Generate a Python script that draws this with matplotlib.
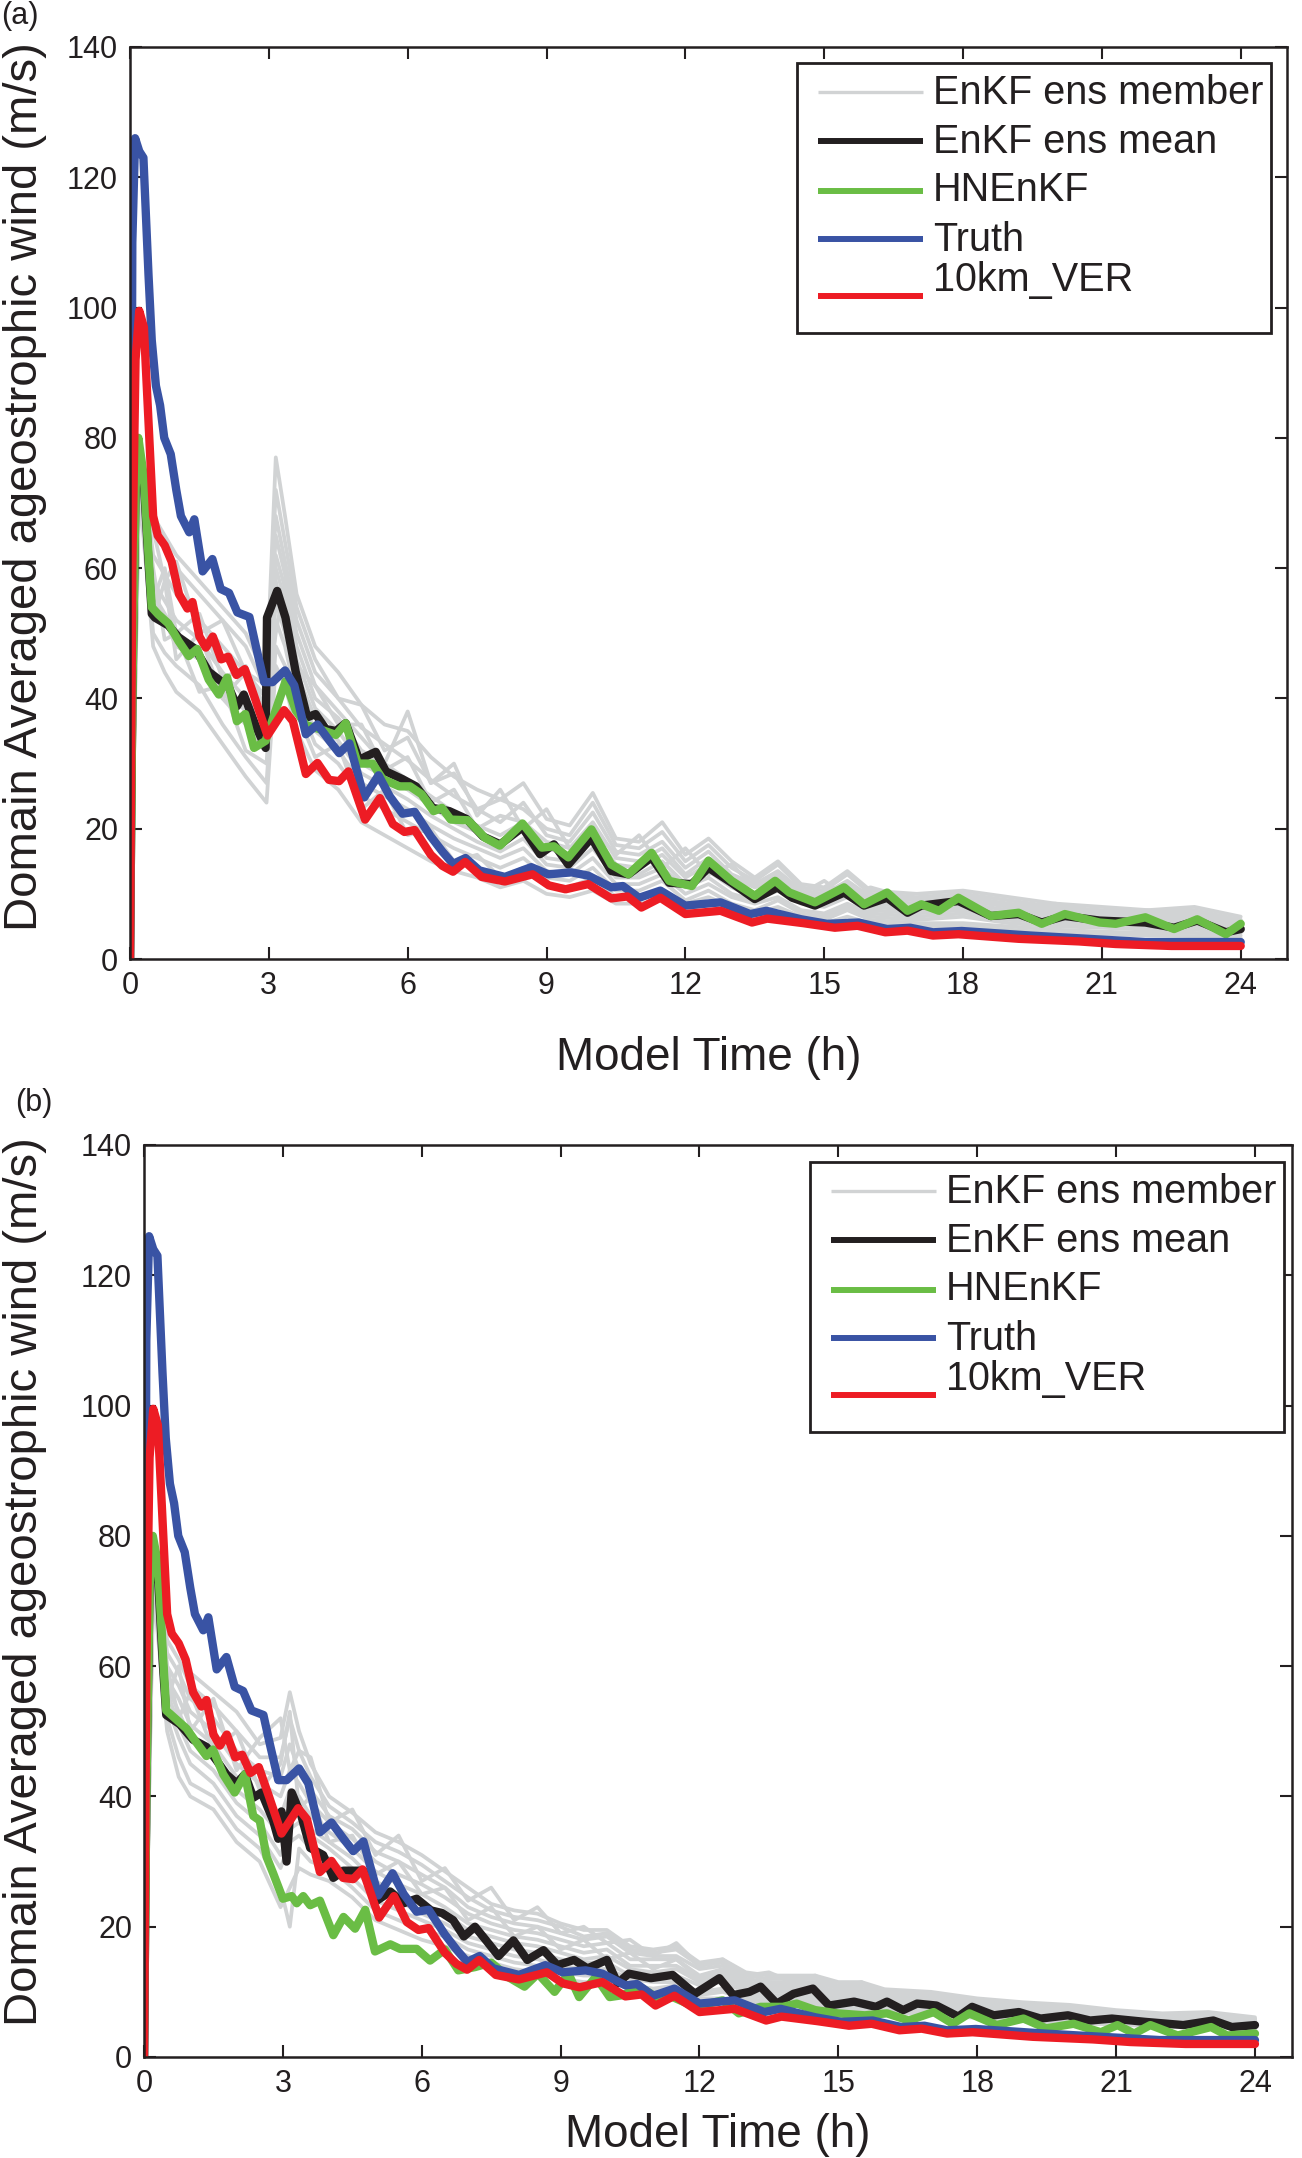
import matplotlib
matplotlib.use("Agg")
import matplotlib.pyplot as plt
from matplotlib.lines import Line2D
from matplotlib.patches import Rectangle

plt.rcParams['font.family'] = ['Liberation Sans', 'DejaVu Sans']

# ---------------- data ----------------
XTICKS = [0, 3, 6, 9, 12, 15, 18, 21, 24]
YTICKS = [0, 20, 40, 60, 80, 100, 120, 140]
LEGEND_LABELS = ["EnKF ens member", "EnKF ens mean", "HNEnKF", "Truth", "10km_VER"]

# (time h, value m/s) -- Truth and 10km_VER are identical in both panels
TRUTH = [(0, 0), (0.05, 110), (0.11, 126), (0.2, 124), (0.29, 123), (0.4, 105), (0.47, 95),
         (0.56, 88), (0.65, 85), (0.74, 80), (0.88, 77.5), (1.0, 72), (1.1, 68), (1.28, 65.5),
         (1.39, 67.5), (1.57, 59.5), (1.78, 61.4), (1.96, 56.8), (2.14, 56.2), (2.32, 53.2),
         (2.58, 52.5), (2.72, 48), (2.9, 42.5), (3.08, 42.5), (3.35, 44.3), (3.55, 42),
         (3.8, 34.5), (4.05, 36), (4.31, 33.5), (4.52, 31.6), (4.74, 33.1), (5.06, 24.8),
         (5.37, 28.2), (5.61, 25), (5.89, 22.3), (6.15, 22.6), (6.5, 18.8), (6.75, 16.5),
         (6.98, 14.6), (7.25, 15.5), (7.55, 13.6), (8.1, 12.6), (8.67, 14.1), (9.04, 13),
         (9.54, 13.3), (9.9, 12.8), (10.4, 11), (10.65, 11.2), (11.0, 9.4), (11.46, 10.5),
         (12.0, 8.2), (12.76, 8.7), (13.4, 6.9), (13.75, 7.4), (14.5, 6.1), (15.06, 5.4),
         (15.74, 5.6), (16.36, 4.6), (16.86, 4.8), (17.35, 4.1), (17.97, 4.3), (19.46, 3.6),
         (20.7, 3.1), (21.94, 2.6), (24.0, 2.6)]

VER10 = [(0, 0), (0.05, 60), (0.12, 92), (0.2, 99.5), (0.3, 97), (0.41, 81), (0.5, 68),
         (0.6, 65), (0.75, 63.5), (0.9, 61), (1.06, 56), (1.24, 53.8), (1.35, 54.8), (1.5, 49.5),
         (1.64, 47.8), (1.79, 49.5), (1.97, 46), (2.12, 46.4), (2.3, 43.6), (2.48, 44.5),
         (2.7, 40), (2.97, 34.3), (3.33, 38.2), (3.52, 36.5), (3.8, 28.4), (4.05, 30.1),
         (4.3, 27.5), (4.52, 27.3), (4.72, 28.8), (5.08, 21.4), (5.4, 24.7), (5.68, 20.7),
         (5.93, 19.5), (6.15, 19.8), (6.5, 16), (6.75, 14.3), (6.98, 13.4), (7.24, 14.9),
         (7.6, 12.6), (8.1, 11.9), (8.7, 13.0), (9.05, 11.3), (9.41, 10.7), (9.9, 11.5),
         (10.4, 9.3), (10.75, 9.6), (11.05, 7.9), (11.46, 9.4), (12.0, 6.9), (12.76, 7.4),
         (13.44, 5.6), (13.77, 6.2), (14.55, 5.5), (15.23, 4.8), (15.72, 5.1), (16.32, 4.1),
         (16.8, 4.35), (17.35, 3.6), (17.9, 3.8), (19.2, 3.1), (20.5, 2.7), (21.3, 2.3),
         (22.5, 2.0), (24.0, 2.0)]

HN_A = [(0, 0), (0.05, 40), (0.12, 72), (0.18, 80), (0.3, 74), (0.4, 62), (0.47, 54),
        (0.61, 52.9), (0.83, 51.5), (1.05, 48.8), (1.27, 46.5), (1.45, 47.6), (1.7, 42.9),
        (1.92, 40.6), (2.1, 43.2), (2.31, 36.5), (2.49, 37.6), (2.68, 32.4), (2.93, 33.5),
        (3.04, 35.9), (3.36, 42.6), (3.58, 38.2), (3.8, 35.9), (4.09, 35.3), (4.45, 34.4),
        (4.66, 36.2), (4.92, 30), (5.24, 30), (5.46, 27.6), (5.82, 26.5), (6.05, 26.5),
        (6.3, 25.3), (6.56, 22.7), (6.74, 23.2), (6.93, 21.4), (7.3, 21.3), (7.67, 18.6),
        (7.99, 17.4), (8.48, 20.8), (8.9, 17.1), (9.16, 17.3), (9.47, 15.6), (9.97, 19.9),
        (10.4, 14.5), (10.77, 13), (11.27, 16.3), (11.65, 12), (12.14, 11.2), (12.5, 15.1),
        (13.0, 12), (13.5, 9.7), (13.94, 12), (14.25, 10.2), (14.8, 8.7), (15.43, 11),
        (15.86, 8.4), (16.36, 10.2), (16.8, 7.4), (17.1, 8.4), (17.48, 7.4), (17.9, 9.4),
        (18.6, 6.6), (19.2, 7.1), (19.7, 5.4), (20.2, 6.9), (20.95, 5.6), (21.3, 5.4),
        (21.94, 6.4), (22.56, 4.6), (23.06, 6.1), (23.68, 3.8), (24.0, 5.4)]

MEAN_A = [(0, 0), (0.05, 40), (0.12, 72), (0.18, 79), (0.3, 73), (0.4, 61), (0.47, 53),
          (0.54, 52.4), (0.83, 51.2), (1.05, 49.4), (1.41, 47.6), (1.7, 44.1), (1.92, 42.9),
          (2.13, 41.8), (2.31, 38.8), (2.46, 40.6), (2.71, 35.9), (2.93, 32.4), (2.96, 52.4),
          (3.18, 56.5), (3.36, 52.4), (3.58, 44.1), (3.83, 37.1), (4.01, 37.6), (4.23, 35.3),
          (4.45, 35.0), (4.66, 36.2), (4.95, 30.6), (5.31, 31.8), (5.53, 28.8), (5.89, 27.6),
          (6.18, 26.5), (6.54, 23.2), (6.9, 22.7), (7.27, 21.5), (7.63, 18.8), (8.0, 17.6),
          (8.48, 20.2), (8.86, 16.1), (9.16, 17.6), (9.47, 14.5), (9.97, 18.6), (10.4, 13.5),
          (10.77, 13), (11.27, 15.6), (11.65, 11.7), (12.14, 11.5), (12.5, 14), (13.0, 11.7),
          (13.5, 9.2), (13.99, 11), (14.31, 9.4), (14.8, 8.2), (15.43, 10.2), (15.86, 8.2),
          (16.36, 9.4), (16.8, 7.1), (17.1, 8.2), (17.9, 8.9), (18.6, 6.6), (19.2, 6.9),
          (19.7, 5.6), (20.2, 6.6), (20.95, 5.9), (21.94, 5.6), (22.56, 4.8), (23.06, 5.9),
          (23.68, 4.1), (24.0, 4.6)]

HN_B = [(0, 0), (0.05, 40), (0.12, 72), (0.19, 80), (0.3, 75.8), (0.41, 61.7), (0.48, 53.2),
        (0.7, 51.8), (0.92, 50.4), (1.13, 48.3), (1.35, 46.2), (1.49, 47.2), (1.71, 43.4),
        (1.96, 40.6), (2.18, 43.4), (2.36, 37), (2.5, 36.3), (2.65, 30.7), (2.79, 28.2),
        (3.0, 24.3), (3.19, 24.7), (3.3, 23.6), (3.44, 24.7), (3.59, 23.3), (3.8, 24),
        (4.09, 18.7), (4.31, 21.5), (4.56, 19.7), (4.78, 22.6), (4.99, 16.2), (5.32, 17.3),
        (5.53, 16.6), (5.89, 16.6), (6.18, 14.8), (6.5, 16.5), (6.79, 13.3), (7.15, 13.8),
        (7.5, 14.5), (7.86, 12.3), (8.22, 10.8), (8.51, 12.8), (8.87, 10.0), (9.17, 12.8),
        (9.4, 9.2), (9.76, 12.3), (10.06, 9.2), (10.35, 9.5), (10.7, 10.8), (11.07, 9.2),
        (11.42, 9.2), (11.9, 7.7), (12.5, 8.7), (12.85, 6.7), (13.32, 7.7), (13.8, 7.7),
        (14.1, 8.2), (14.5, 7.2), (14.98, 6.7), (15.57, 6.4), (16.05, 6.7), (16.52, 5.6),
        (17.06, 6.9), (17.47, 5.1), (17.83, 6.7), (18.42, 4.9), (19.0, 5.9), (19.49, 4.4),
        (20.08, 5.1), (20.67, 3.8), (21.03, 4.9), (21.39, 3.6), (21.74, 4.9), (22.33, 3.3),
        (23.05, 4.6), (23.4, 3.3), (24.0, 3.6)]

MEAN_B = [(0, 0), (0.05, 40), (0.12, 72), (0.19, 79), (0.3, 74), (0.41, 60), (0.48, 52.5),
          (0.77, 51.1), (1.06, 48.7), (1.35, 47.6), (1.57, 45.5), (1.78, 43.4), (2.0, 42),
          (2.18, 43.4), (2.36, 39.8), (2.54, 40.6), (2.79, 36.3), (2.9, 33.5), (2.97, 37.7),
          (3.08, 30), (3.19, 40.6), (3.4, 37), (3.59, 32.1), (3.87, 31), (4.09, 27.5),
          (4.31, 28.6), (4.52, 28.6), (4.74, 28.6), (5.03, 24), (5.32, 25.4), (5.61, 23.6),
          (5.89, 24.3), (6.2, 22.5), (6.44, 22.1), (6.68, 21.0), (6.91, 18.5), (7.15, 20.0),
          (7.39, 17.9), (7.66, 15.5), (7.98, 17.9), (8.28, 14.9), (8.63, 16.4), (8.93, 14.1),
          (9.29, 14.9), (9.58, 13.6), (10.0, 14.9), (10.23, 11.3), (10.47, 12.8), (10.95, 12.1),
          (11.42, 12.6), (11.9, 9.7), (12.43, 12.1), (12.73, 9.5), (13.08, 10.0), (13.32, 10.8),
          (13.67, 8.2), (14.03, 9.7), (14.45, 10.5), (14.8, 7.9), (15.34, 8.5), (15.81, 7.7),
          (16.05, 8.5), (16.4, 7.2), (16.7, 8.2), (17.12, 7.9), (17.59, 6.2), (17.89, 7.7),
          (18.36, 6.4), (18.9, 6.9), (19.37, 5.9), (19.96, 6.4), (20.44, 5.6), (20.91, 5.9),
          (21.62, 5.4), (22.45, 4.9), (23.1, 5.6), (23.5, 4.6), (24.0, 4.9)]

# ensemble members on a common time grid
MEMBER_T = [0, 0.2, 0.5, 0.75, 1.0, 1.5, 2.0, 2.5, 2.95, 3.15, 3.35, 3.6,
            4.0, 4.5, 5.0, 5.5, 6.0, 6.5, 7.0, 7.5, 8.0, 8.5,
            9.0, 9.5, 10.0, 10.5, 11.0, 11.5, 12.0, 12.5, 13.0, 13.5,
            14.0, 14.5, 15.0, 15.5, 16.0, 17, 18, 19, 20, 21, 22, 23, 24]

MEMBERS_A = [
    [0, 72, 48, 44, 41, 38, 33, 28, 24, 45, 42, 35,
     29, 26, 21, 19, 17, 15, 13.5, 12.5, 11, 12,
     10, 9.5, 10.5, 8.5, 8.5, 9, 7.5, 8.5, 7, 6.5,
     7, 6, 5.5, 6.5, 5.5, 5, 5, 4.5, 4, 3.8, 3.6, 3.5, 3.2],
    [0, 75, 50, 47, 45, 42, 36, 31, 27, 48, 45, 38,
     31, 33, 23, 26, 19, 20, 15, 16, 12.5, 14,
     11.5, 11, 12.5, 9.5, 9.5, 10.5, 8.5, 9.5, 8, 7,
     8, 6.5, 6, 7.5, 6, 5.5, 5.5, 5, 4.5, 4.2, 4, 4, 3.6],
    [0, 78, 60, 49, 50, 41, 42, 32, 30, 52, 48, 40,
     33, 30, 25, 23, 21, 19, 17, 15.5, 14, 15.5,
     12.5, 12, 14, 10.5, 10.5, 12, 9, 10.5, 8.5, 7.5,
     9, 7, 6.5, 8, 6.5, 6, 6.5, 5.5, 5, 4.8, 4.5, 4.5, 4],
    [0, 79, 54, 52, 48, 46, 40, 36, 32, 55, 50, 42,
     35, 32, 27, 25, 23, 20.5, 18.5, 17, 15.5, 17,
     13.5, 13, 15.5, 11.5, 11.5, 13, 10, 11.5, 9.5, 8.5,
     9.5, 7.5, 7, 8.5, 7, 6.5, 7, 6, 5.5, 5.2, 5, 5, 4.2],
    [0, 80, 56, 53, 50, 47, 42, 38, 34, 58, 52, 44,
     37, 33.5, 28.5, 26.5, 24.5, 22, 20, 18, 16.5, 18.5,
     14.5, 14, 17, 12.5, 12.5, 14, 11, 12.5, 10, 9,
     10.5, 8.5, 8, 9.5, 7.5, 7, 7.5, 6.5, 6, 5.5, 5.5, 5.5, 4.5],
    [0, 80, 58, 55, 52, 49, 44, 40, 36, 60, 55, 46,
     38.5, 35, 30, 28, 26, 23.5, 21, 19.5, 17.5, 20,
     15.5, 15, 18.5, 13.5, 13, 15, 11.5, 13.5, 11, 9.5,
     11, 9, 8.5, 10, 8, 7.5, 8, 7, 6.5, 6, 5.8, 5.8, 4.8],
    [0, 80, 55, 60, 50, 53, 43, 45, 38, 62, 57, 48,
     40, 37, 32, 30, 27.5, 25, 22.5, 20.5, 19, 21,
     17, 16, 19.5, 14.5, 14, 16, 12.5, 14.5, 11.5, 10,
     12, 9.5, 9, 11, 8.5, 8, 8.5, 7.5, 6.8, 6.3, 6.2, 6.2, 5],
    [0, 80, 62, 59, 56, 52, 48, 44, 40, 65, 59, 50,
     42, 36, 36, 29, 31, 24, 26, 20, 22, 21,
     18, 17, 21, 15.5, 15, 17, 13, 15.5, 12.5, 11,
     12.5, 10, 9.5, 11.5, 9, 8.5, 9, 8, 7.2, 6.7, 6.5, 6.5, 5.3],
    [0, 79, 66, 58, 61, 50, 52, 44, 42, 68, 61, 52,
     44, 40, 35.5, 33, 30.5, 27.5, 25, 23, 21, 24,
     19, 18, 22.5, 16.5, 16, 18, 14, 16.5, 13, 11.5,
     13.5, 10.5, 10, 12, 9.5, 9, 9.5, 8.5, 7.6, 7, 6.8, 7, 5.6],
    [0, 78, 66, 63, 60, 56, 52, 48, 41, 72, 64, 54,
     46, 40, 39, 32, 34, 27, 28.5, 23, 24.5, 23,
     20, 19, 24, 17.5, 17, 19.5, 15, 17.5, 14, 12,
     14.5, 11, 10.5, 13, 10, 9.5, 10, 9, 8, 7.5, 7.2, 7.5, 6],
    [0, 77, 68, 65, 62, 58, 54, 50, 43, 77, 68, 56,
     48, 44, 39, 36, 35, 31, 28, 26, 24.5, 27,
     21.5, 20.5, 25.5, 18.5, 18, 21, 16, 18.5, 15, 12.5,
     15, 11.5, 11, 13.5, 10.5, 10, 10.5, 9.5, 8.5, 8, 7.5, 8, 6.5],
    [0, 76, 52, 58, 46, 50, 40, 44, 40, 50, 58, 45,
     42, 38, 34, 30, 38, 27, 30, 22, 26, 20,
     23, 17, 20, 16, 19, 14, 17, 13, 14.5, 11,
     13, 10, 12, 9.5, 11, 9, 10, 8, 8.5, 7, 7.5, 6.5, 6],
]

MEMBERS_B = [
    [0, 72, 50, 43, 40, 38, 33, 30, 23, 26, 29, 28,
     27, 24.5, 21, 19.5, 18, 17, 15.5, 14.5, 13.5, 13,
     12, 11.5, 11.5, 10.5, 10, 10, 9, 9, 8.5, 8,
     8, 8, 7, 7, 6.8, 6.5, 6, 5.5, 5.2, 5, 4.6, 4.6, 4.2],
    [0, 74, 52, 46, 42, 40, 35, 32, 26, 20, 32, 30,
     29, 26, 22.5, 21, 19.5, 18.5, 16.5, 15.5, 14.5, 14,
     13, 12.5, 12.5, 11, 10.5, 11, 9.5, 10, 9, 8.5,
     8.5, 8.5, 7.5, 7.5, 7.2, 6.8, 6.5, 5.8, 5.6, 5.3, 4.9, 5, 4.4],
    [0, 76, 54, 49, 45, 42, 37, 34, 29, 33, 34, 32,
     30.5, 27.5, 24, 22.5, 21, 19.5, 17.5, 16.5, 15.5, 15,
     14, 13.5, 13.5, 12, 11.5, 11.5, 10, 10.5, 9.5, 9,
     9, 9, 8, 8, 7.6, 7.2, 6.8, 6.2, 6, 5.6, 5.2, 5.3, 4.7],
    [0, 78, 56, 51, 47, 44, 39, 36, 31, 35, 36, 34,
     32, 29, 25.5, 24, 22, 20.5, 18.5, 17.5, 16.5, 16,
     15, 14.5, 14.5, 12.5, 12.5, 12.5, 11, 11.5, 10, 9.5,
     9.5, 9.5, 8.5, 8.5, 8, 7.6, 7.2, 6.6, 6.3, 5.9, 5.5, 5.6, 4.9],
    [0, 79, 57, 53, 49, 46, 41, 38, 34, 38, 38, 35,
     33, 30.5, 27, 25, 23.5, 22, 19.5, 18.5, 17.5, 17,
     16, 15, 15.5, 13.5, 13, 13.5, 11.5, 12, 10.5, 10,
     10, 10, 9, 9, 8.4, 8, 7.5, 6.9, 6.6, 6.2, 5.7, 5.9, 5.1],
    [0, 80, 58, 55, 51, 48, 43, 40, 37, 41, 40, 37,
     34.5, 32, 28.5, 26.5, 25, 23, 20.5, 19.5, 18.5, 18,
     17, 16, 16.5, 14, 14, 14, 12, 12.5, 11, 10.5,
     10.5, 10.5, 9.5, 9.5, 8.8, 8.4, 7.8, 7.2, 6.9, 6.4, 5.9, 6.1, 5.3],
    [0, 80, 60, 57, 53, 50, 45, 42, 40, 44, 42, 39,
     36, 33.5, 30, 28, 26.5, 24.5, 22, 20.5, 19.5, 19,
     18, 17, 17.5, 15, 15, 15, 12.5, 13.5, 11.5, 11,
     11, 11, 10, 10, 9.2, 8.8, 8.2, 7.5, 7.2, 6.6, 6.1, 6.3, 5.5],
    [0, 80, 62, 59, 55, 52, 47, 44, 43, 48, 44, 41,
     37, 35, 31.5, 30, 28, 26, 23, 21.5, 20.5, 20,
     19, 18, 18.5, 16, 15.5, 15.5, 13.5, 14, 12, 11.5,
     11.5, 11.5, 10.5, 10.5, 9.6, 9.2, 8.5, 7.8, 7.4, 6.8, 6.3, 6.5, 5.7],
    [0, 79, 64, 61, 57, 54, 50, 46, 46, 52, 47, 43,
     38.5, 36, 33, 31.5, 29.5, 27, 24.5, 22.5, 21.5, 21,
     20, 18.5, 19, 16.5, 16, 16.5, 14, 14.5, 12.5, 12,
     12, 12, 11, 11, 10, 9.6, 8.8, 8.1, 7.7, 7, 6.5, 6.7, 5.9],
    [0, 78, 66, 63, 59, 56, 53, 48, 49, 56, 50, 45,
     40, 37.5, 34.5, 33, 31, 28.5, 26, 23.5, 22.5, 22,
     20.5, 19.5, 19.5, 17, 16.5, 17, 14.5, 15, 13, 12.5,
     12.5, 12.5, 11.5, 11.5, 10.4, 10, 9, 8.4, 8, 7.2, 6.7, 6.9, 6.1],
    [0, 77, 55, 60, 50, 55, 44, 49, 52, 44, 47, 46,
     36, 38, 31, 34, 27, 29, 24, 26, 21, 23,
     19, 20, 17.5, 18, 15.5, 17.5, 14, 15, 12.5, 13,
     11.5, 12.5, 10.5, 11.5, 9.5, 9.5, 8.5, 8.2, 7.6, 7, 6.5, 6.8, 5.8],
    [0, 75, 60, 52, 56, 47, 50, 41, 45, 53, 38, 40,
     33, 34, 28, 30, 25, 26, 21, 23, 18.5, 20,
     16.5, 18, 15, 16, 13.5, 15, 12, 13, 11, 11.5,
     10, 11, 9.5, 10, 8.8, 8.5, 8, 7.5, 7, 6.5, 6.2, 6.4, 5.5],
]

# ---------------- style ----------------
W, H = 1302, 2158
C_GREY = '#d1d3d4'
C_BLACK = '#231f20'
C_GREEN = '#6abd45'
C_BLUE = '#3953a4'
C_RED = '#ed1c24'
TXT = '#231f20'

fig = plt.figure(figsize=(W / 100, H / 100), dpi=100)


def px_axes(left, top, right, bottom):
    return [left / W, 1 - bottom / H, (right - left) / W, (bottom - top) / H]


def unzip(pairs):
    return [p[0] for p in pairs], [p[1] for p in pairs]


def draw_panel(ax, members, mean, hn, xmax, xlab_y, ylab_x, ylab_y):
    for m in members:
        ax.plot(MEMBER_T, m, color=C_GREY, lw=2.7, zorder=1,
                solid_joinstyle='round', solid_capstyle='round')
    for series, col, z in ((mean, C_BLACK, 2), (hn, C_GREEN, 3), (TRUTH, C_BLUE, 4), (VER10, C_RED, 5)):
        t, v = unzip(series)
        ax.plot(t, v, color=col, lw=6.0, zorder=z, solid_joinstyle='round', solid_capstyle='round')
    ax.set_xlim(0, xmax)
    ax.set_ylim(0, 140)
    ax.set_xticks(XTICKS)
    ax.set_yticks(YTICKS)
    ax.tick_params(axis='both', direction='in', length=8.6, width=1.5, pad=8.6,
                   top=True, right=True, labelsize=22, colors=TXT, labelcolor=TXT)
    for s in ax.spines.values():
        s.set_linewidth(1.8)
        s.set_color(TXT)
        s.set_zorder(6)
    ax.set_xlabel('Model Time (h)', fontsize=33, color=TXT)
    ax.xaxis.set_label_coords(0.5, xlab_y)
    ax.set_ylabel('Domain Averaged ageostrophic wind (m/s)', fontsize=34, color=TXT, va='center')
    ax.yaxis.set_label_coords(ylab_x, ylab_y)


def draw_legend(x0, y0):
    # box geometry in figure pixels relative to the box's top-left corner
    bw, bh = 474, 270
    fig.add_artist(Rectangle((x0 / W, 1 - (y0 + bh) / H), bw / W, bh / H,
                             transform=fig.transFigure, facecolor='white',
                             edgecolor=TXT, lw=2.0, zorder=10))
    line_y = [29, 78, 128, 176, 233]
    text_y = [30, 79, 127, 177, 217]
    cols = [C_GREY, C_BLACK, C_GREEN, C_BLUE, C_RED]
    widths = [2.4, 4.3, 4.3, 4.3, 4.3]
    for ly, ty, c, lw, lab in zip(line_y, text_y, cols, widths, LEGEND_LABELS):
        fig.add_artist(Line2D([(x0 + 21) / W, (x0 + 126) / W],
                              [1 - (y0 + ly) / H] * 2, transform=fig.transFigure,
                              color=c, lw=lw, zorder=11, solid_capstyle='butt'))
        fig.text((x0 + 136) / W, 1 - (y0 + ty) / H, lab, fontsize=28.5, color=TXT,
                 ha='left', va='center', zorder=12)


ax1 = fig.add_axes(px_axes(130, 47, 1287, 959))
draw_panel(ax1, MEMBERS_A, MEAN_A, HN_A, 25.0, -0.0845, -0.0908, 0.5175)
draw_legend(797, 63)

ax2 = fig.add_axes(px_axes(144, 1145, 1292, 2057))
draw_panel(ax2, MEMBERS_B, MEAN_B, HN_B, 24.8, -0.0615, -0.1037, 0.521)
draw_legend(810, 1162)

fig.text(1 / W, 1 - 1 / H, '(a)', fontsize=22, color=TXT, ha='left', va='top')
fig.text(15 / W, 1 - 1088 / H, '(b)', fontsize=22, color=TXT, ha='left', va='top')

fig.savefig('out.png', dpi=100, facecolor='white')
